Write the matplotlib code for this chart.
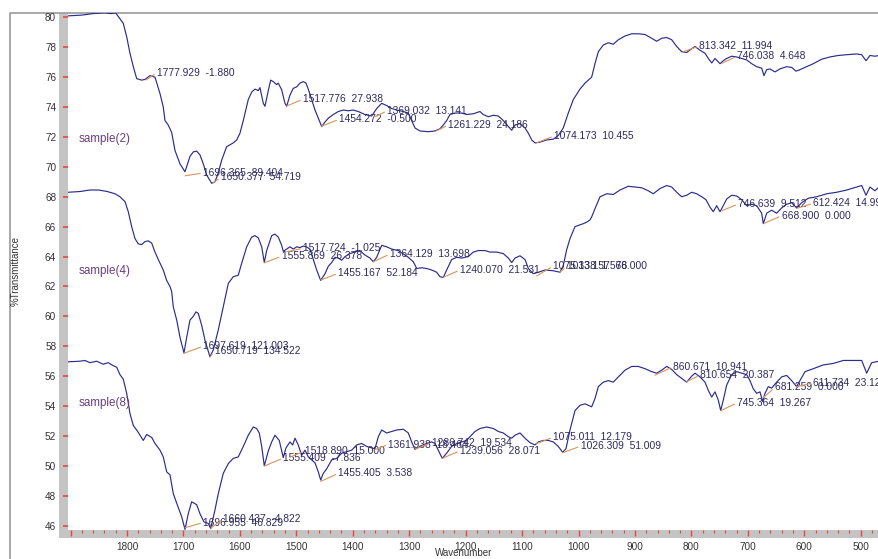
import matplotlib
matplotlib.use("Agg")
import matplotlib.pyplot as plt
from matplotlib.patches import Rectangle
from matplotlib.lines import Line2D
from matplotlib.ticker import FixedLocator, MultipleLocator

plt.rcParams['font.family'] = ['Liberation Sans', 'DejaVu Sans']

# ---------------- spectra (wavenumber, %T) ----------------
wn_s2 = [1904.0, 1880, 1860, 1840, 1828, 1820, 1818.2, 1806.6, 1800.5, 1794.7, 1788.8,
         1782.8, 1774.0, 1768.0, 1759.2, 1750.4, 1741.5, 1735.7, 1732.7, 1727.0, 1720.8,
         1715.0, 1706.1, 1697.2, 1688.4, 1682.5, 1676.5, 1670.7, 1664.8, 1658.8, 1649.9,
         1644.1, 1638.2, 1632.2, 1623.4, 1611.7, 1605.6, 1599.8, 1593.9, 1585.1, 1579.1,
         1573.2, 1567.4, 1564.4, 1558.5, 1555.5, 1549.6, 1545.4, 1540.8, 1534.8, 1531.9,
         1525.9, 1520.1, 1517.1, 1511.2, 1505.4, 1499.3, 1493.5, 1487.6, 1482.8, 1478.8,
         1472.7, 1466.9, 1461.0, 1455.0, 1449.2, 1443.3, 1434.5, 1425.6, 1416.8, 1407.9,
         1399.1, 1390.2, 1378.3, 1366.4, 1357.6, 1348.7, 1339.9, 1331.0, 1322.1, 1310.4,
         1301.6, 1295.6, 1289.7, 1280.9, 1266.2, 1254.3, 1245.4, 1239.6, 1233.6, 1227.7,
         1218.9, 1207.0, 1198.1, 1186.4, 1174.6, 1168.7, 1159.8, 1151.0, 1142.1, 1133.3,
         1124.4, 1118.4, 1112.5, 1103.7, 1094.8, 1088.9, 1082.9, 1077.1, 1068.3, 1056.4,
         1044.7, 1035.8, 1027.0, 1018.1, 1009.2, 997.4, 988.5, 976.7, 970.8, 964.9,
         956.1, 947.2, 938.4, 929.5, 917.7, 905.8, 894.1, 882.2, 870.4, 861.5,
         852.6, 843.8, 834.9, 826.0, 817.2, 808.3, 799.5, 793.6, 784.8, 775.9,
         770.0, 764.0, 758.2, 749.3, 743.5, 737.5, 728.6, 719.7, 710.9, 702.0,
         693.2, 684.3, 675.5, 671.4, 666.6, 660.8, 651.9, 643.1, 631.2, 622.3,
         614.7, 607.7, 595.7, 584.0, 569.1, 554.5, 539.7, 524.9, 507.1, 498.3,
         490.6, 483.6, 474.7, 467.6]
t_s2 = [80.1, 80.15, 80.25, 80.3, 80.25, 80.3, 80.2, 79.6, 78.7, 77.6, 76.7,
        75.9, 75.8, 75.85, 76.1, 76.0, 74.9, 74.0, 73.1, 72.8, 72.3,
        71.1, 70.2, 69.67, 70.7, 71.0, 71.05, 70.8, 70.2, 69.45, 68.9,
        69.0, 69.6, 70.45, 71.35, 71.6, 71.8, 72.25, 73.1, 74.5, 75.0,
        75.2, 75.1, 75.3, 74.25, 74.05, 75.1, 75.8, 75.7, 75.5, 75.6,
        75.15, 74.25, 74.05, 74.8, 75.25, 75.35, 75.6, 75.7, 75.6, 75.2,
        74.5, 73.8, 73.25, 72.7, 73.0, 73.25, 73.5, 73.7, 73.8, 73.75,
        73.8, 73.7, 73.5, 73.4, 73.9, 74.25, 74.1, 73.9, 73.8, 73.7,
        73.6, 73.1, 72.6, 72.4, 72.35, 72.4, 72.55, 72.8, 73.1, 73.5,
        73.6, 73.6, 73.5, 73.55, 73.7, 73.5, 73.35, 73.45, 73.4, 73.1,
        72.7, 72.45, 72.8, 72.9, 72.6, 72.25, 71.8, 71.6, 71.65, 71.8,
        71.85, 72.1, 72.6, 73.6, 74.5, 75.2, 75.6, 76.0, 76.9, 77.7,
        78.15, 78.3, 78.2, 78.5, 78.75, 78.9, 78.9, 78.85, 78.6, 78.4,
        78.6, 78.65, 78.5, 78.05, 77.7, 77.65, 77.9, 78.05, 77.8, 77.6,
        77.25, 76.95, 77.25, 76.9, 77.1, 77.25, 77.4, 77.35, 77.25, 77.15,
        76.9, 76.7, 76.6, 76.1, 76.5, 76.55, 76.35, 76.55, 76.7, 76.65,
        76.4, 76.5, 76.7, 76.9, 77.2, 77.35, 77.45, 77.5, 77.55, 77.5,
        77.1, 77.45, 77.4, 77.45]

wn_s4 = [1904.0, 1883, 1866, 1850, 1835, 1821.3, 1812.4, 1803.5, 1797.7, 1791.7, 1785.8,
         1780.0, 1774.0, 1768.1, 1762.3, 1756.2, 1750.4, 1744.5, 1735.7, 1729.7, 1723.8,
         1720.8, 1718.0, 1711.9, 1706.1, 1699.0, 1694.2, 1688.4, 1682.5, 1677.7, 1673.7,
         1667.6, 1661.8, 1653.0, 1647.1, 1638.2, 1629.4, 1620.5, 1611.7, 1602.8, 1596.8,
         1587.9, 1579.1, 1573.2, 1567.4, 1561.3, 1556.7, 1552.5, 1543.6, 1537.8, 1531.9,
         1525.9, 1523.1, 1517.1, 1511.2, 1505.4, 1499.3, 1493.5, 1487.6, 1482.0, 1475.8,
         1469.9, 1463.9, 1456.8, 1449.2, 1443.3, 1437.3, 1431.5, 1425.6, 1419.6, 1413.7,
         1404.9, 1396.0, 1387.2, 1378.3, 1369.5, 1363.6, 1357.6, 1348.7, 1339.9, 1331.0,
         1319.3, 1301.6, 1292.7, 1286.7, 1277.9, 1269.0, 1260.1, 1251.3, 1245.4, 1239.6,
         1233.6, 1224.7, 1215.8, 1207.0, 1195.3, 1186.4, 1177.6, 1165.7, 1156.8, 1145.0,
         1133.3, 1124.4, 1118.4, 1112.5, 1103.7, 1094.8, 1088.9, 1080.1, 1071.2, 1059.4,
         1044.7, 1032.8, 1027.0, 1021.0, 1015.1, 1006.2, 991.5, 985.5, 979.7, 976.7,
         970.8, 961.9, 950.0, 938.4, 926.5, 911.8, 899.9, 888.1, 876.4, 867.5,
         855.6, 843.8, 834.9, 826.0, 817.2, 808.3, 799.5, 790.6, 781.7, 774.1,
         767.0, 761.2, 755.2, 749.3, 743.5, 737.5, 728.6, 719.7, 710.9, 702.0,
         693.2, 684.3, 675.5, 672.6, 666.6, 657.8, 648.9, 640.1, 631.2, 622.3,
         613.5, 604.7, 592.9, 578.0, 560.3, 542.6, 524.9, 507.1, 498.3, 490.6,
         483.6, 474.7, 467.6]
t_s4 = [68.3, 68.35, 68.45, 68.45, 68.35, 68.2, 68.0, 67.67, 67.0, 66.0, 65.2,
        64.85, 64.8, 65.0, 65.05, 64.9, 64.3, 63.8, 63.1, 62.4, 62.0,
        61.65, 60.65, 59.75, 58.6, 57.55, 58.6, 59.75, 60.0, 60.3, 60.2,
        59.4, 58.4, 57.3, 57.75, 59.1, 60.65, 62.2, 62.65, 62.75, 63.55,
        64.65, 65.3, 65.4, 65.25, 64.65, 63.6, 64.4, 65.4, 65.5, 65.3,
        64.75, 64.35, 64.5, 64.65, 64.5, 64.65, 64.6, 64.7, 64.65, 64.5,
        63.8, 63.1, 62.4, 62.85, 63.35, 63.6, 63.95, 63.9, 63.75, 64.0,
        64.2, 64.3, 64.4, 64.1, 63.9, 63.65, 63.95, 64.75, 64.65, 64.5,
        64.4, 63.95, 63.65, 63.2, 63.25, 63.2, 63.1, 62.95, 62.65, 62.6,
        63.1, 63.8, 63.95, 63.9, 64.0, 64.3, 64.4, 64.4, 64.3, 64.3,
        64.2, 63.9, 63.6, 63.9, 64.05, 63.8, 63.2, 62.85, 62.95, 63.1,
        63.05, 62.95, 63.4, 64.45, 65.2, 66.0, 66.2, 66.3, 66.45, 66.65,
        67.2, 68.0, 68.2, 68.15, 68.45, 68.7, 68.65, 68.6, 68.4, 68.2,
        68.55, 68.75, 68.65, 68.3, 68.0, 68.1, 68.3, 68.2, 68.0, 67.8,
        67.3, 67.0, 67.4, 67.0, 67.4, 67.85, 68.1, 68.05, 67.8, 67.4,
        67.5, 67.4, 66.9, 66.2, 66.9, 67.1, 66.9, 67.25, 67.5, 67.6,
        67.25, 67.6, 67.9, 68.0, 68.2, 68.3, 68.45, 68.65, 68.75, 68.1,
        68.65, 68.4, 68.65]

wn_s8 = [1904.0, 1883.3, 1874.5, 1865.6, 1853.7, 1842.0, 1833.1, 1824.3, 1818.2, 1812.4, 1806.6,
         1800.5, 1794.7, 1788.8, 1782.8, 1777.0, 1771.1, 1765.1, 1756.2, 1750.4, 1741.5,
         1735.7, 1729.7, 1723.8, 1718.0, 1711.9, 1703.1, 1697.2, 1691.4, 1685.4, 1676.5,
         1670.7, 1663.6, 1656.0, 1651.7, 1644.1, 1638.2, 1629.4, 1620.5, 1611.7, 1602.8,
         1593.9, 1585.1, 1576.2, 1570.2, 1565.6, 1561.3, 1556.7, 1549.6, 1543.6, 1537.8,
         1530.2, 1523.1, 1518.3, 1511.2, 1506.4, 1502.3, 1496.5, 1490.5, 1484.6, 1478.8,
         1472.7, 1466.9, 1461.0, 1456.8, 1452.2, 1446.2, 1437.3, 1428.4, 1419.6, 1410.7,
         1401.9, 1393.0, 1384.2, 1375.3, 1366.4, 1360.6, 1354.7, 1348.7, 1339.9, 1331.0,
         1322.1, 1310.4, 1301.6, 1295.6, 1289.7, 1280.9, 1269.0, 1260.1, 1254.3, 1248.4,
         1241.4, 1233.6, 1224.7, 1215.8, 1207.0, 1198.1, 1192.3, 1183.4, 1174.6, 1162.7,
         1151.0, 1142.1, 1133.3, 1124.4, 1118.4, 1112.5, 1103.7, 1094.8, 1085.9, 1077.1,
         1071.2, 1062.4, 1053.6, 1044.7, 1035.8, 1028.0, 1022.2, 1015.1, 1006.2, 997.4,
         988.5, 976.7, 970.8, 964.9, 956.1, 947.2, 938.4, 929.5, 917.7, 905.8,
         894.1, 882.2, 870.4, 861.5, 852.6, 843.8, 834.9, 826.0, 817.2, 808.3,
         799.5, 793.6, 784.8, 775.9, 770.0, 764.0, 758.2, 752.3, 748.1, 743.5,
         737.5, 728.6, 719.7, 710.9, 702.0, 696.2, 690.3, 684.3, 678.5, 673.7,
         669.6, 663.8, 657.8, 648.9, 640.1, 631.2, 622.3, 613.5, 607.7, 598.7,
         584.0, 566.4, 548.6, 530.9, 513.1, 498.3, 489.4, 480.6, 467.6]
t_s8 = [56.96, 57.0, 57.05, 56.9, 57.0, 56.8, 56.9, 56.7, 56.6, 56.1, 55.8,
        54.85, 53.5, 52.7, 52.4, 52.05, 51.7, 52.1, 51.9, 51.5, 51.05,
        50.6, 49.6, 49.4, 48.15, 47.5, 46.6, 45.75, 46.8, 47.6, 47.4,
        46.8, 46.25, 46.15, 45.8, 47.05, 48.15, 49.5, 50.15, 50.5, 50.6,
        51.3, 52.05, 52.6, 52.5, 52.2, 51.3, 50.0, 51.0, 51.6, 52.05,
        51.7, 50.55, 51.2, 51.6, 51.4, 51.85, 51.4, 50.7, 51.05, 50.6,
        50.4, 50.2, 49.6, 49.05, 49.5, 49.8, 50.4, 50.5, 50.85, 50.95,
        51.05, 51.4, 51.5, 51.3, 51.2, 51.15, 51.95, 52.4, 52.2, 52.3,
        52.4, 52.45, 52.2, 51.6, 51.1, 51.3, 51.5, 51.6, 51.5, 51.05,
        50.5, 50.85, 51.3, 51.5, 51.6, 51.7, 51.95, 52.3, 52.5, 52.6,
        52.5, 52.3, 52.2, 51.95, 51.85, 52.05, 52.2, 51.85, 51.55, 51.4,
        51.6, 51.7, 51.7, 51.6, 51.3, 50.9, 51.15, 52.4, 53.7, 54.05,
        54.15, 53.95, 54.5, 55.3, 55.6, 55.7, 55.6, 55.95, 56.4, 56.65,
        56.65, 56.5, 56.3, 56.2, 56.4, 56.65, 56.45, 56.1, 55.85, 55.6,
        56.0, 56.2, 55.95, 55.6, 55.05, 54.6, 54.95, 54.4, 53.7, 54.4,
        55.4, 56.1, 56.3, 56.2, 56.1, 55.7, 55.15, 54.85, 54.95, 54.3,
        54.85, 55.3, 55.2, 55.6, 55.95, 56.05, 55.7, 55.3, 55.7, 56.3,
        56.5, 56.75, 56.85, 57.05, 57.05, 57.05, 56.2, 56.9, 57.0]

sample_names = ["sample(2)", "sample(4)", "sample(8)"]
sample_name_pos = [(1886.3, 71.84), (1886.3, 63.05), (1886.3, 54.22)]

# ---------------- peak-pick labels ----------------
peak_labels = [
    "1777.929  -1.880", "1696.365  89.404", "1650.377  54.719", "1517.776  27.938",
    "1454.272  -0.500", "1369.032  13.141", "1261.229  24.186", "1074.173  10.455",
    "813.342  11.994", "746.038  4.648",
    "1697.619  121.003", "1650.719  134.522", "1555.869  26.378", "1517.724  -1.025",
    "1455.167  52.184", "1364.129  13.698", "1240.070  21.531", "1075.138  1.576",
    "1033.157  68.000", "746.639  9.512", "612.424  14.998", "668.900  0.000",
    "1696.955  46.829", "1660.437  -4.822", "1555.409  -7.836", "1518.890  15.000",
    "1455.405  3.538", "1361.938  18.464", "1286.742  19.534", "1239.056  28.071",
    "1075.011  12.179", "1026.309  51.009", "860.671  10.941", "810.654  20.387",
    "745.364  19.267", "681.259  0.000", "611.734  23.123",
]
# peak point on the trace, then where its label starts
peak_xy = [
    (1766.3, 75.81), (1697.2, 69.40), (1647.6, 68.92), (1517.1, 74.07),
    (1455.0, 72.73), (1360.6, 73.35), (1251.3, 72.41), (1074.1, 71.61),
    (814.4, 77.70), (746.3, 76.92),
    (1699.0, 57.53), (1653.0, 57.27), (1556.7, 63.58), (1517.1, 64.32),
    (1456.8, 62.43), (1363.6, 63.65), (1239.6, 62.61), (1074.1, 62.70),
    (1032.8, 62.95), (746.3, 67.06), (613.5, 67.22), (671.4, 66.22),
    (1697.2, 45.86), (1651.7, 45.82), (1556.7, 49.99), (1511.2, 50.59),
    (1456.8, 48.96), (1360.6, 51.10), (1289.7, 51.12), (1241.4, 50.50),
    (1074.1, 51.50), (1028.0, 50.88), (864.5, 56.07), (808.3, 55.63),
    (748.1, 53.69), (673.7, 54.53), (613.5, 55.29),
]
label_xy = [
    (1746.8, 76.29), (1665.3, 69.59), (1633.4, 69.32), (1488.2, 74.52),
    (1423.9, 73.18), (1338.8, 73.75), (1230.7, 72.80), (1043.4, 72.06),
    (786.0, 78.08), (718.7, 77.41),
    (1664.8, 58.01), (1644.1, 57.71), (1525.9, 64.03), (1487.6, 64.55),
    (1425.6, 62.88), (1334.0, 64.17), (1210.0, 63.10), (1044.7, 63.36),
    (1020.4, 63.36), (716.9, 67.51), (584.0, 67.56), (640.0, 66.73),
    (1665.3, 46.21), (1629.9, 46.47), (1523.1, 50.52), (1484.6, 51.00),
    (1425.6, 49.50), (1337.0, 51.42), (1260.1, 51.56), (1210.0, 51.01),
    (1044.7, 51.91), (996.1, 51.32), (832.1, 56.63), (784.8, 56.07),
    (718.7, 54.22), (651.9, 55.25), (584.0, 55.56),
]

# ---------------- axes ----------------
y_ticks = list(range(46, 81, 2))
x_major = list(range(1900, 499, -100))
x_major_labels = [""] + [str(v) for v in x_major[1:]]

W, H = 879, 559
fig = plt.figure(figsize=(W / 100, H / 100), dpi=100)
fig.patch.set_facecolor("white")

def fx(px):
    return px / W

def fy(py):
    return 1 - py / H

ax = fig.add_axes([fx(68), fy(530), fx(W) - fx(68), fy(13) - fy(530)])
ax.set_facecolor("none")
for s in ax.spines.values():
    s.set_visible(False)

line_color = "#2c2c8e"
for wn, tr in [(wn_s2, t_s2), (wn_s4, t_s4), (wn_s8, t_s8)]:
    ax.plot(wn, tr, color=line_color, lw=0.85, solid_joinstyle="round")

ax.set_xlim(1904.5, 467.6)
ax.set_ylim(45.71, 80.29)

ax.yaxis.set_major_locator(FixedLocator(y_ticks))
ax.set_yticklabels([str(v) for v in y_ticks])
ax.xaxis.set_major_locator(FixedLocator(x_major))
ax.set_xticklabels(x_major_labels)
ax.xaxis.set_minor_locator(MultipleLocator(20))
ax.tick_params(axis="y", which="major", direction="out", length=3.5, width=1.2,
               color="#e8463c", pad=5, labelsize=7.2, labelcolor="#333333")
ax.tick_params(axis="x", which="major", direction="out", length=4.5, width=1.0,
               color="#e8463c", pad=4, labelsize=7.2, labelcolor="#333333")
ax.tick_params(axis="x", which="minor", direction="out", length=2.5, width=0.8,
               color="#e8463c")

# grey axis bands and outer frame
band = "#c4c4c4"
fig.add_artist(Rectangle((fx(59.3), fy(538)), fx(68) - fx(59.3), fy(13) - fy(538),
                         transform=fig.transFigure, facecolor=band, edgecolor="none",
                         zorder=-1))
fig.add_artist(Rectangle((fx(59.3), fy(538)), 1 - fx(59.3), fy(530) - fy(538),
                         transform=fig.transFigure, facecolor=band, edgecolor="none",
                         zorder=-1))
fig.add_artist(Line2D([fx(10), fx(10), 1.0], [0.0, fy(13), fy(13)],
                      transform=fig.transFigure, color="#9a9a9a", lw=1.2, zorder=-1))

# sample names
for name, (w, t) in zip(sample_names, sample_name_pos):
    ax.text(w, t, name, color="#6b3f7c", fontsize=8.4, ha="left", va="center")

# peak labels with leader lines
for text, xy, xt in zip(peak_labels, peak_xy, label_xy):
    ax.annotate(text, xy=xy, xytext=xt, textcoords="data",
                color="#2f2a5e", fontsize=7.4, ha="left", va="center",
                arrowprops=dict(arrowstyle="-", color="#d8955c", lw=0.8,
                                shrinkA=0, shrinkB=0, relpos=(0, 0.5)))

fig.text(fx(464), fy(553), "Wavenumber", ha="center", va="center",
         fontsize=7, color="#333333")
fig.text(fx(16), fy(271), "%Transmittance", ha="center", va="center",
         rotation=90, fontsize=7, color="#333333")

fig.savefig("out.png", dpi=100)
